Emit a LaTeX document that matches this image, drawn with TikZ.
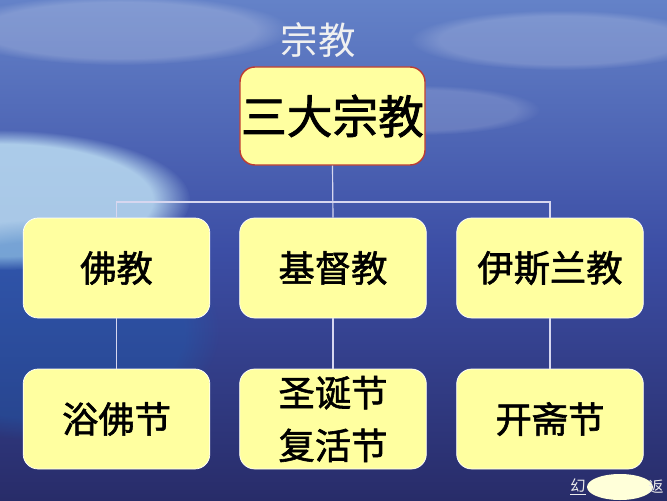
\documentclass[tikz,border=0pt]{standalone}
\usepackage{fontspec}
\newfontfamily\cjk{Noto Sans CJK SC}
\newfontfamily\cjkheavy{Noto Sans CJK SC}[FakeBold=1.6]
\usetikzlibrary{fadings}
\definecolor{boxyellow}{RGB}{255,255,160}
\definecolor{rootred}{RGB}{190,60,50}
\definecolor{linklav}{RGB}{215,215,240}
\definecolor{skytop}{RGB}{100,130,200}
\definecolor{seamid}{RGB}{60,78,165}
\definecolor{seadeep}{RGB}{40,44,105}

\begin{document}
\begin{tikzpicture}[x=0.03cm, y=-0.03cm, font=\cjk,
  rootbox/.style={draw=rootred, line width=1.2pt, fill=boxyellow, rounded corners=0.45cm,
    minimum width=5.55cm, minimum height=2.94cm, inner sep=0pt, font=\cjkheavy\fontsize{39}{44}\selectfont},
  relbox/.style={draw=white, line width=0.6pt, fill=boxyellow, rounded corners=0.45cm,
    minimum width=5.6cm, minimum height=3cm, inner sep=0pt, align=center,
    font=\cjkheavy\fontsize{31}{45}\selectfont},
  link/.style={draw=linklav, line width=1pt},
  glow/.style={path fading=circle with fuzzy edge 20 percent}]

  % backdrop
  \useasboundingbox (0,0) rectangle (667,500);
  \shade[top color=skytop, bottom color=seadeep, middle color=seamid] (0,0) rectangle (667,500);
  \fill[white!80!cyan, opacity=0.75, glow] (0,200) ellipse (190 and 70);
  \fill[cyan!40!blue, opacity=0.35, glow] (40,330) ellipse (180 and 110);
  \fill[white, opacity=0.2, glow] (120,30) ellipse (170 and 35);
  \fill[white, opacity=0.18, glow] (560,40) ellipse (150 and 30);
  \fill[white, opacity=0.15, glow] (420,110) ellipse (120 and 25);

  % title
  \node[text=gray!12, font=\cjk\fontsize{32}{36}\selectfont] (title) at (318,40) {宗教};

  % root
  \node[rootbox] (root) at (332.5,116) {三大宗教};

  % religions
  \node[relbox] (b1) at (116.5,268) {佛教};
  \node[relbox] (b2) at (333,268) {基督教};
  \node[relbox] (b3) at (550,268) {伊斯兰教};

  % festivals
  \node[relbox] (c1) at (116.5,419) {浴佛节};
  \node[relbox] (c2) at (333,419) {圣诞节\\复活节};
  \node[relbox] (c3) at (550,419) {开斋节};

  % links
  \coordinate (bus) at (333,202);
  \path[link] (b1.north) |- (bus) -| (b3.north);
  \path[link] (root.south) -- (b2.north);
  \path[link] (b1.south) -- (c1.north);
  \path[link] (b2.south) -- (c2.north);
  \path[link] (b3.south) -- (c3.north);

  % corner button
  \node[text=white!85!gray, font=\cjk\fontsize{13}{14}\selectfont, inner sep=0pt] (lft) at (578,487) {\underline{幻}};
  \fill[boxyellow!40!white] (620,487) ellipse (33 and 13);
  \node[text=white!85!gray, font=\cjk\fontsize{13}{14}\selectfont, inner sep=0pt] (rgt) at (656,487) {返};

\end{tikzpicture}
\end{document}
